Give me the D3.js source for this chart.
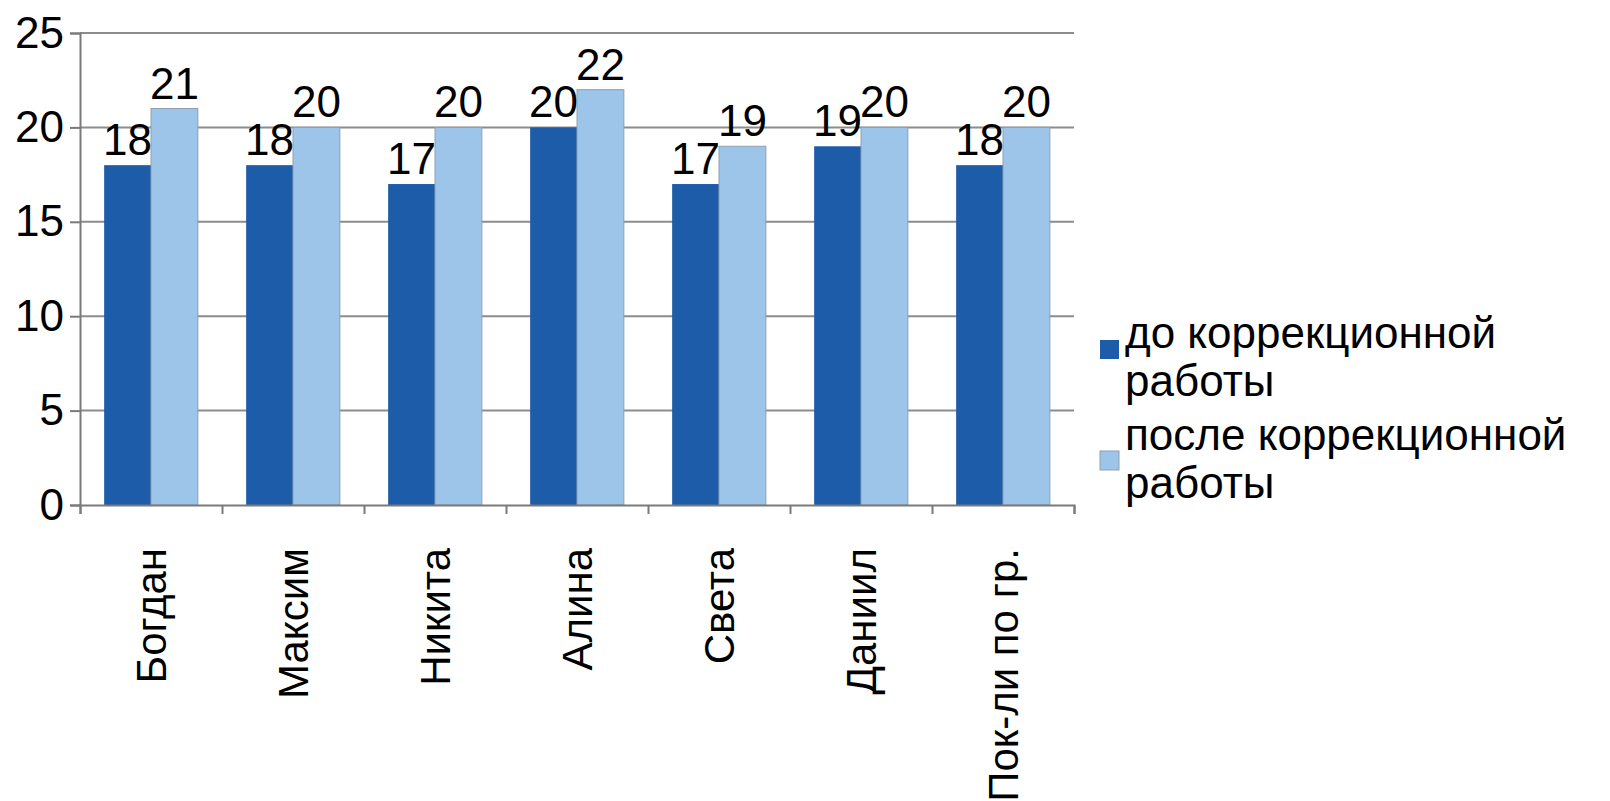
<!DOCTYPE html>
<html>
<head>
<meta charset="utf-8">
<script src="https://cdn.jsdelivr.net/npm/d3@7"></script>
<style>
  html, body { margin: 0; padding: 0; background: #fff; }
  svg text { font-family: "Liberation Sans", Arial, sans-serif; fill: #000; }
</style>
</head>
<body>
<svg id="chart" width="1610" height="801"></svg>
<script>
const names = ['Богдан', 'Максим', 'Никита', 'Алина', 'Света', 'Даниил', 'Пок-ли по гр.'];
const before = [18, 18, 17, 20, 17, 19, 18];
const after = [21, 20, 20, 22, 19, 20, 20];
const seriesNames = ['до коррекционной работы', 'после коррекционной работы'];
const yTicks = [0, 5, 10, 15, 20, 25];

const colors = ['#1d5ca8', '#9dc4e9'];
const strokes = ['none', '#8f9fb0'];
const fontSize = 44;

const margin = {left: 80, top: 33, right: 536, bottom: 296};
const width = 1610 - margin.left - margin.right;
const height = 801 - margin.top - margin.bottom;

const svg = d3.select('#chart');
const g = svg.append('g').attr('transform', `translate(${margin.left},${margin.top})`);

const x = d3.scaleBand().domain(names).range([0, width]).paddingInner(0.34).paddingOuter(0.17);
const x1 = d3.scaleBand().domain([0, 1]).range([0, x.bandwidth()]);
const y = d3.scaleLinear().domain([0, 25]).range([height, 0]);

// gridlines
g.selectAll('.grid')
  .data(yTicks.filter(d => d > 0))
  .enter()
  .append('line')
  .attr('x1', 0)
  .attr('x2', width)
  .attr('y1', d => y(d))
  .attr('y2', d => y(d))
  .attr('stroke', '#8c8c8c')
  .attr('stroke-width', 2);

// bars
const rows = names.map((n, i) => ({name: n, values: [before[i], after[i]]}));
const groups = g.selectAll('.grp')
  .data(rows)
  .enter()
  .append('g')
  .attr('transform', d => `translate(${x(d.name)},0)`);

groups.selectAll('rect')
  .data(d => d.values.map((v, k) => ({k: k, v: v})))
  .enter()
  .append('rect')
  .attr('x', d => x1(d.k))
  .attr('width', x1.bandwidth())
  .attr('y', d => y(d.v))
  .attr('height', d => height - y(d.v))
  .attr('fill', d => colors[d.k])
  .attr('stroke', d => strokes[d.k])
  .attr('stroke-width', 1);

groups.selectAll('.val')
  .data(d => d.values.map((v, k) => ({k: k, v: v})))
  .enter()
  .append('text')
  .attr('x', d => x1(d.k) + x1.bandwidth() / 2)
  .attr('y', d => y(d.v) - 10)
  .attr('text-anchor', 'middle')
  .style('font-size', fontSize + 'px')
  .text(d => d.v);

// axes
const yAxis = g.append('g')
  .call(d3.axisLeft(y).tickValues(yTicks).tickSize(10).tickPadding(6));
yAxis.selectAll('text').style('font-size', fontSize + 'px');

const xAxis = g.append('g')
  .attr('transform', `translate(0,${height})`)
  .call(d3.axisBottom(d3.scaleLinear().domain([0, names.length]).range([0, width]))
    .tickValues(d3.range(names.length + 1)).tickSize(9).tickFormat(''));

[yAxis, xAxis].forEach(a => {
  a.select('.domain').attr('stroke', '#7a7a7a').attr('stroke-width', 2);
  a.selectAll('.tick line').attr('stroke', '#7a7a7a').attr('stroke-width', 2);
});

// category names, rotated like in the original
g.selectAll('.xlab')
  .data(names)
  .enter()
  .append('text')
  .attr('transform', d => `translate(${x(d) + x.bandwidth() / 2},${height + 43}) rotate(-90)`)
  .attr('text-anchor', 'end')
  .attr('dy', '0.35em')
  .style('font-size', '42px')
  .text(d => d);

// legend
const legend = svg.append('g').attr('transform', 'translate(1100,0)');
const legendRows = [{k: 0, lines: ['до коррекционной', 'работы'], base: 348, box: 340},
                    {k: 1, lines: ['после коррекционной', 'работы'], base: 450, box: 451}];
legendRows.forEach(r => {
  legend.append('rect')
    .attr('x', 0)
    .attr('y', r.box)
    .attr('width', 19)
    .attr('height', 19)
    .attr('fill', colors[r.k])
    .attr('stroke', strokes[r.k]);
  r.lines.forEach((t, j) => {
    legend.append('text')
      .attr('x', 25)
      .attr('y', r.base + j * 48)
      .style('font-size', fontSize + 'px')
      .text(t);
  });
});
</script>
</body>
</html>
